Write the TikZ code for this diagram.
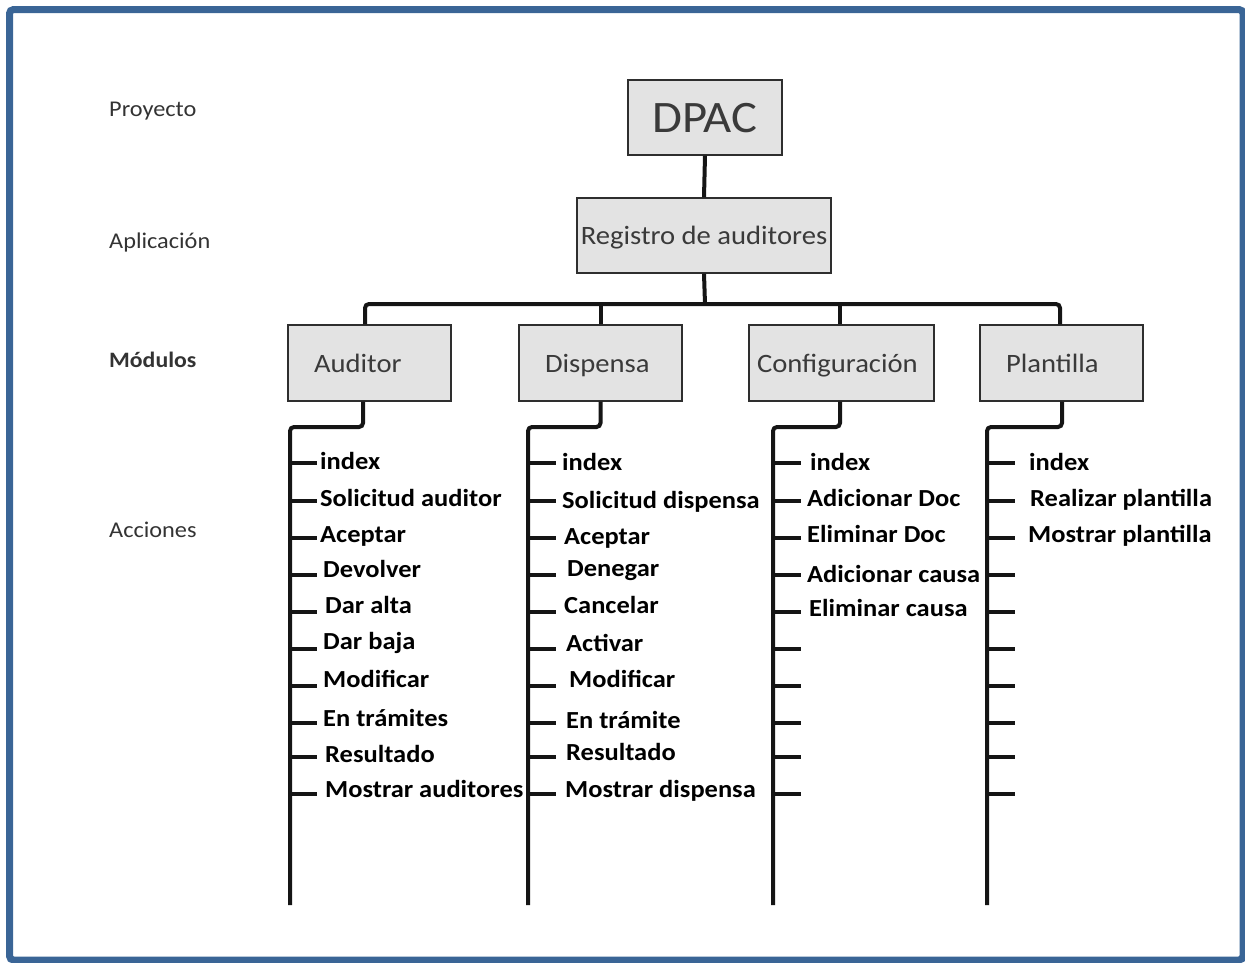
\documentclass[tikz,border=0pt]{standalone}
\usepackage{fontspec}
\setmainfont{Carlito}[FakeStretch=1.08]
\definecolor{framecol}{HTML}{3A6596}
\definecolor{boxfill}{HTML}{E3E3E3}
\definecolor{boxline}{HTML}{2E2E2E}
\definecolor{boxtext}{HTML}{3A3A3A}
\definecolor{linkcol}{HTML}{151515}
\definecolor{leveltext}{HTML}{333333}
\begin{document}
\begin{tikzpicture}[x=1pt,y=-1pt,
  frame/.style={draw=framecol, line width=7pt, rounded corners=4pt},
  box/.style={draw=boxline, fill=boxfill, line width=1.4pt, text=boxtext, inner ysep=0pt, text depth=0pt},
  modbox/.style={box, minimum height=76, font=\fontsize{26.5}{30}\selectfont, align=left},
  link/.style={draw=linkcol, line width=4pt, rounded corners=4pt},
  tickmark/.style={draw=linkcol, line width=3.5pt},
  level/.style={anchor=base west, text=leveltext, inner sep=0pt, font=\fontsize{22.5}{26}\selectfont},
  act/.style={anchor=base west, inner sep=0pt, font=\bfseries\fontsize{24.5}{28}\selectfont},
]
\useasboundingbox (0,0) rectangle (1245,962);
\draw[frame] (9.5,9.5) rectangle (1243,960);

% level captions on the left
\node[level] (lvProy) at (109,116) {Proyecto};
\node[level] (lvApp)  at (109,248) {Aplicación};
\node[level, font=\bfseries\fontsize{22}{26}\selectfont] (lvMod) at (109,367) {Módulos};
\node[level] (lvAcc)  at (109,537) {Acciones};

% project and application
\node[box, minimum width=154, minimum height=75, font=\fontsize{45}{50}\selectfont] (dpac) at (705,117.5) {DPAC};
\node[box, minimum width=254, minimum height=75, inner xsep=2pt, font=\fontsize{26.5}{30}\selectfont] (reg) at (704,235.5) {Registro de auditores};

% modules
\node[modbox, inner xsep=26pt, text width=111] (mAud) at (369.5,363) {Auditor};
\node[modbox, inner xsep=26pt, text width=111] (mDis) at (600.5,363) {Dispensa};
\node[modbox, inner xsep=8pt,  text width=169] (mCfg) at (841.5,363) {Configuración};
\node[modbox, inner xsep=26pt, text width=111] (mPla) at (1061.5,363) {Plantilla};

\coordinate (bus) at (705,304);
\draw[link] (dpac.south) -- (reg.north);
\draw[link] (reg.south) -- (bus);
\draw[link] ([xshift=-4.5pt]mAud.north) -- ([xshift=-4.5pt]mAud.north |- bus)
  -- ([xshift=-1.5pt]mPla.north |- bus) -- ([xshift=-1.5pt]mPla.north);
\draw[link] (mDis.north) -- (mDis.north |- bus);
\draw[link] ([xshift=-1.5pt]mCfg.north) -- ([xshift=-1.5pt]mCfg.north |- bus);

% action spines
\coordinate (aTop) at (290,427); \coordinate (aEnd) at (290,905);
\coordinate (dTop) at (528,427); \coordinate (dEnd) at (528,905);
\coordinate (cTop) at (773,427); \coordinate (cEnd) at (773,905);
\coordinate (pTop) at (987,427); \coordinate (pEnd) at (987,905);
\draw[link] ([xshift=-6.5pt]mAud.south) |- (aTop) -- (aEnd);
\draw[link] (mDis.south) |- (dTop) -- (dEnd);
\draw[link] ([xshift=-1.5pt]mCfg.south) |- (cTop) -- (cEnd);
\draw[link] ([xshift=0.5pt]mPla.south) |- (pTop) -- (pEnd);

% ticks on each spine
\foreach \n/\y in {1/463,2/501,3/538,4/575,5/612,6/649,7/686,8/723,9/757,10/794}{
  \coordinate (aS\n) at (290,\y); \coordinate (aT\n) at (317,\y);
  \coordinate (dS\n) at (528,\y); \coordinate (dT\n) at (556,\y);
  \coordinate (cS\n) at (773,\y); \coordinate (cT\n) at (801,\y);
  \coordinate (pS\n) at (987,\y); \coordinate (pT\n) at (1015,\y);
  \draw[tickmark] (aS\n) -- (aT\n);
  \draw[tickmark] (dS\n) -- (dT\n);
  \draw[tickmark] (cS\n) -- (cT\n);
  \draw[tickmark] (pS\n) -- (pT\n);
}

% Auditor actions
\node[act] (a1)  at (320,469) {index};
\node[act] (a2)  at (320,506) {Solicitud auditor};
\node[act] (a3)  at (320,542) {Aceptar};
\node[act] (a4)  at (323,577) {Devolver};
\node[act] (a5)  at (325,613) {Dar alta};
\node[act] (a6)  at (323,649) {Dar baja};
\node[act] (a7)  at (323,687) {Modificar};
\node[act] (a8)  at (323,726) {En trámites};
\node[act] (a9)  at (325,762) {Resultado};
\node[act] (a10) at (325,797) {Mostrar auditores};

% Dispensa actions
\node[act] (d1)  at (562,470) {index};
\node[act] (d2)  at (562,508) {Solicitud dispensa};
\node[act] (d3)  at (564,544) {Aceptar};
\node[act] (d4)  at (567,576) {Denegar};
\node[act] (d5)  at (564,613) {Cancelar};
\node[act] (d6)  at (566,651) {Activar};
\node[act] (d7)  at (569,687) {Modificar};
\node[act] (d8)  at (566,728) {En trámite};
\node[act] (d9)  at (566,760) {Resultado};
\node[act] (d10) at (565,797) {Mostrar dispensa};

% Configuración actions
\node[act] (c1) at (810,470) {index};
\node[act] (c2) at (807,506) {Adicionar Doc};
\node[act] (c3) at (807,542) {Eliminar Doc};
\node[act] (c4) at (807,582) {Adicionar causa};
\node[act] (c5) at (809,616) {Eliminar causa};

% Plantilla actions
\node[act] (p1) at (1029,470) {index};
\node[act] (p2) at (1030,506) {Realizar plantilla};
\node[act] (p3) at (1028,542) {Mostrar plantilla};
\end{tikzpicture}
\end{document}
